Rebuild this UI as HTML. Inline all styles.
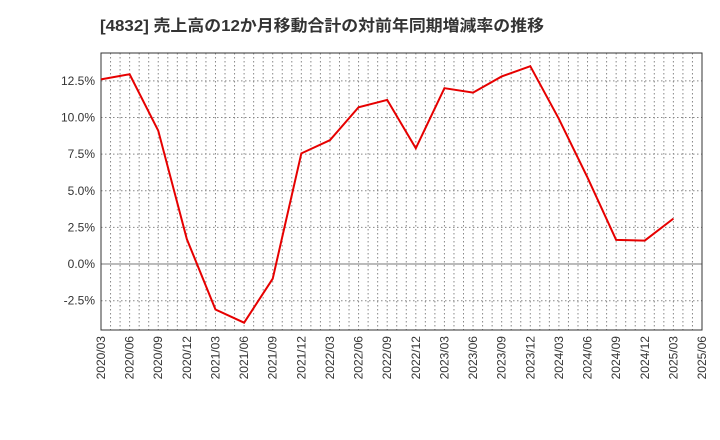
<!DOCTYPE html>
<html><head><meta charset="utf-8"><style>body{margin:0;background:#fff}svg{display:block}</style></head>
<body>
<svg id="chart" width="720" height="440" font-family="'Liberation Sans','Noto Sans CJK JP',sans-serif">
<text x="100" y="31" font-size="16" font-weight="bold" fill="#333" textLength="444" lengthAdjust="spacingAndGlyphs">[4832]  売上高の12か月移動合計の対前年同期増減率の推移</text>
<g id="grid"></g><g id="axes"></g><g id="series"></g>
</svg>
<script>
const categories=["2020/03","2020/06","2020/09","2020/12","2021/03","2021/06","2021/09","2021/12","2022/03","2022/06","2022/09","2022/12","2023/03","2023/06","2023/09","2023/12","2024/03","2024/06","2024/09","2024/12","2025/03"];
const values=[12.6,12.95,9.1,1.7,-3.1,-4.0,-1.0,7.55,8.45,10.7,11.2,7.9,12.0,11.7,12.8,13.5,9.9,5.9,1.65,1.6,3.1];
const xTickLabels=["2020/03","2020/06","2020/09","2020/12","2021/03","2021/06","2021/09","2021/12","2022/03","2022/06","2022/09","2022/12","2023/03","2023/06","2023/09","2023/12","2024/03","2024/06","2024/09","2024/12","2025/03","2025/06"];
const yTicks=[-2.5,0,2.5,5,7.5,10,12.5];
const L=101,R=702,T=53,B=330,yMin=-4.5,yMax=14.4;
const NS="http://www.w3.org/2000/svg";
const x=i=>L+(R-L)*i/21;
const y=v=>B-(v-yMin)/(yMax-yMin)*(B-T);
function mk(tag,attrs,parent){const e=document.createElementNS(NS,tag);for(const k in attrs)e.setAttribute(k,attrs[k]);document.getElementById(parent).appendChild(e);return e;}
for(let m=1;m<63;m++){const l=mk("line",{x1:L+(R-L)*m/63,x2:L+(R-L)*m/63,y1:T,y2:B,stroke:"#888","stroke-dasharray":"1.5,2.5","stroke-width":1},"grid");

}
yTicks.forEach(v=>{const l=mk("line",{x1:L,x2:R,y1:y(v),y2:y(v),stroke:v===0?"#777":"#888","stroke-dasharray":v===0?"":"1.5,2.5","stroke-width":1},"grid");


const t=mk("text",{x:L-6,y:y(v)+4,"text-anchor":"end","font-size":12,fill:"#333"},"axes");t.textContent=v.toFixed(1)+"%";

});
const fr=mk("rect",{x:L,y:T,width:R-L,height:B-T,fill:"none",stroke:"#333","stroke-width":1},"axes");


xTickLabels.forEach((s,i)=>{const t=mk("text",{transform:`translate(${x(i)+4},${B+6}) rotate(-90)`,"text-anchor":"end","font-size":12,fill:"#333"},"axes");t.textContent=s;

});
const p=mk("polyline",{points:values.map((v,i)=>x(i)+","+y(v)).join(" "),fill:"none",stroke:"#e60000","stroke-width":2},"series");


</script>
</body></html>
